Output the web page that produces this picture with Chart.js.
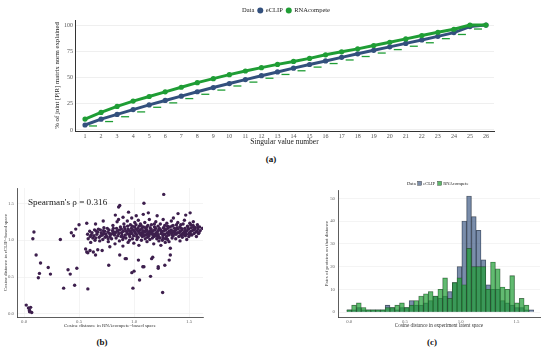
<!DOCTYPE html>
<html>
<head>
<meta charset="utf-8">
<script src="https://cdn.jsdelivr.net/npm/chart.js@4.4.0/dist/chart.umd.min.js"></script>
<style>
  html, body { margin: 0; padding: 0; background: #fff; }
  body { width: 550px; height: 349px; position: relative; overflow: hidden; font-family: "Liberation Serif", serif; }
  canvas { position: absolute; }
  #chartA { left: 0; top: 0; }
  #chartB { left: 0; top: 170px; }
  #chartC { left: 310px; top: 170px; }
  .cap { position: absolute; font-size: 9px; font-weight: bold; color: #111; transform: translate(-50%, -50%); }
  #spearman { position: absolute; left: 28px; top: 197px; font-size: 9.2px; color: #222; white-space: nowrap; }
</style>
</head>
<body>
<canvas id="chartA" width="550" height="150"></canvas>
<canvas id="chartB" width="230" height="160"></canvas>
<canvas id="chartC" width="240" height="160"></canvas>
<div class="cap" style="left:271px; top:159px;">(a)</div>
<div class="cap" style="left:102px; top:342px;">(b)</div>
<div class="cap" style="left:432px; top:342px;">(c)</div>
<div id="spearman">Spearman's ρ = 0.316</div>
<script>
const SERIF = '"Liberation Serif", serif';
const BLUE = '#33507d';
const GREEN = '#1f9d35';

/* (a) norma explicada por valor singular */
const singularValues = [1, 2, 3, 4, 5, 6, 7, 8, 9, 10, 11, 12, 13, 14, 15, 16, 17, 18, 19, 20, 21, 22, 23, 24, 25, 26];
const eclipExplained = [4.7, 10.3, 14.8, 19.4, 23.9, 28.1, 32.2, 36.4, 40.4, 44.2, 48.0, 51.7, 55.3, 58.9, 62.4, 65.8, 69.2, 72.6, 75.9, 79.2, 82.5, 85.8, 89.2, 92.8, 98.5, 100];
const rnaExplained = [10.4, 16.7, 22.4, 27.5, 31.9, 36.3, 40.7, 45.1, 48.9, 52.7, 56.2, 59.4, 62.5, 65.3, 68.2, 71.6, 74.5, 77.3, 80.5, 83.6, 86.8, 90.0, 93.1, 96.0, 100, 100];
const dashPos = [1.5, 2.5, 3.5, 4.5, 5.5, 6.5, 7.5, 8.5, 9.5, 10.5, 11.5, 12.5, 13.5, 14.5, 15.5, 16.5, 17.5, 18.5, 19.5, 20.5, 21.5, 22.5, 23.5, 24.5, 25.5];
const dashValues = [3.8, 8.0, 12.6, 17.2, 21.6, 25.8, 29.9, 34.0, 38.0, 41.9, 45.6, 49.3, 52.9, 56.4, 59.9, 63.3, 66.7, 70.0, 73.3, 76.6, 79.8, 83.1, 87.0, 91.0, 96.2];
const pctTicks = [0, 25, 50, 75, 100];

/* (b) distancias cosseno */
const distancePairs = [
  [0.02,0.12],[0.04,0.08],[0.05,0.05],[0.06,0.09],[0.07,0.02],[0.05,0.03],
  [0.09,1.11],[0.08,1.02],[0.11,0.80],[0.15,0.69],[0.14,0.55],[0.13,0.49],[0.22,0.63],[0.24,0.54],
  [0.33,1.01],[0.36,0.35],[0.40,0.60],[0.42,0.54],[0.43,1.10],[0.45,1.06],[0.46,0.39],[0.48,0.62],
  [0.47,1.15],[0.50,1.21],[0.57,1.23],[0.58,0.34],[0.77,0.66],[0.86,1.45],[0.87,1.47],[0.83,1.34],
  [0.92,0.75],[0.99,0.35],[0.98,0.56],[1.00,0.58],[1.05,0.46],[1.09,1.50],[1.09,0.64],[1.15,0.51],
  [1.22,0.62],[1.26,0.29],[1.17,0.77],[1.16,0.75],[1.32,0.73],[1.33,0.80],[1.33,0.89],[1.51,1.37],
  [1.47,1.34],[1.58,1.18],[1.27,1.62],
  [0.56,0.88],[0.57,0.84],[0.60,0.86],[0.63,0.84],[0.65,0.80],[0.71,0.86],[0.58,0.83],[0.67,0.87],
  [0.78,0.91],[0.87,0.80],[0.93,0.75],[1.04,0.73],[1.08,0.64],[1.28,0.66],[1.22,0.64],
  [0.95,1.38],[1.02,1.33],[1.13,1.37],[1.21,1.33],[1.40,1.36],[0.90,1.31],[0.72,1.26],[0.65,1.22],
  [0.583,1.02],[0.578,1.08],[0.602,1.05],[0.597,1.12],[0.606,0.97],[0.618,1.10],[0.625,1.03],
  [0.641,1.14],[0.636,1.06],[0.645,1.00],[0.662,1.08],[0.657,1.12],[0.683,1.04],[0.676,1.15],
  [0.688,0.99],[0.702,1.10],[0.697,1.06],[0.721,1.13],[0.716,1.01],[0.726,1.17],[0.743,1.08],
  [0.737,1.04],[0.762,1.11],[0.757,1.16],[0.766,0.98],[0.781,1.05],[0.777,1.09],[0.803,1.13],
  [0.796,1.02],[0.808,1.20],[0.822,1.07],[0.816,1.11],[0.827,0.95],[0.841,1.16],[0.837,1.03],
  [0.846,1.25],[0.862,1.09],[0.856,1.13],[0.867,0.99],[0.859,1.28],[0.882,1.05],[0.876,1.18],
  [0.887,1.10],[0.903,1.12],[0.897,1.01],[0.908,1.22],[0.899,0.92],[0.921,1.07],[0.916,1.15],
  [0.926,1.03],[0.942,1.19],[0.937,1.10],[0.946,0.97],[0.939,1.26],[0.962,1.05],[0.956,1.13],
  [0.967,1.21],[0.959,1.00],[0.981,1.09],[0.976,1.16],[0.986,1.02],[0.979,1.30],[1.002,1.12],
  [0.996,1.06],[1.007,1.24],[0.998,0.96],[1.005,1.18],[1.021,1.08],[1.016,1.15],[1.026,1.01],
  [1.018,1.21],[1.042,1.11],[1.037,1.04],[1.046,1.19],[1.039,1.27],[1.044,0.93],[1.062,1.07],
  [1.056,1.14],[1.067,1.00],[1.058,1.22],[1.065,1.10],[1.081,1.13],[1.076,1.05],[1.086,1.18],
  [1.079,1.09],[1.084,1.35],[1.102,1.02],[1.096,1.11],[1.107,1.16],[1.098,1.24],[1.105,1.07],
  [1.121,1.08],[1.116,1.14],[1.126,1.20],[1.118,0.98],[1.124,1.04],[1.142,1.12],[1.137,1.06],
  [1.146,1.17],[1.139,1.28],[1.144,1.01],[1.162,1.09],[1.156,1.15],[1.167,1.03],[1.158,1.21],
  [1.165,1.11],[1.181,1.05],[1.176,1.13],[1.186,1.18],[1.179,0.95],[1.184,1.08],[1.202,1.10],
  [1.196,1.16],[1.207,1.02],[1.198,1.25],[1.205,1.06],[1.221,1.07],[1.216,1.12],[1.226,0.99],
  [1.218,1.19],[1.224,1.04],[1.242,1.14],[1.237,1.03],[1.246,1.09],[1.239,1.22],[1.244,0.93],
  [1.262,1.06],[1.256,1.11],[1.267,1.17],[1.258,1.00],[1.265,1.28],[1.281,1.08],[1.276,1.13],
  [1.286,1.02],[1.279,1.20],[1.284,0.97],[1.302,1.10],[1.296,1.05],[1.307,1.16],[1.298,1.23],
  [1.305,1.01],[1.321,1.12],[1.316,1.07],[1.326,1.18],[1.318,0.98],[1.342,1.09],[1.337,1.14],
  [1.346,1.03],[1.339,1.26],[1.344,1.19],[1.362,1.11],[1.356,1.06],[1.367,1.16],[1.358,1.30],
  [1.381,1.08],[1.376,1.13],[1.386,1.21],[1.379,1.02],[1.402,1.15],[1.396,1.10],[1.407,1.05],
  [1.398,1.24],[1.421,1.12],[1.416,1.18],[1.426,1.07],[1.418,0.99],[1.442,1.09],[1.437,1.14],
  [1.446,1.22],[1.439,1.04],[1.462,1.16],[1.456,1.11],[1.467,1.06],[1.458,1.27],[1.481,1.13],
  [1.476,1.08],[1.486,1.19],[1.479,1.01],[1.502,1.10],[1.496,1.15],[1.507,1.23],[1.498,1.05],
  [1.521,1.17],[1.516,1.12],[1.526,1.07],[1.542,1.14],[1.537,1.20],[1.546,1.09],[1.539,1.25],
  [1.562,1.11],[1.556,1.17],[1.567,1.05],[1.581,1.15],[1.576,1.21],[1.586,1.09],[1.602,1.13],
  [1.596,1.18],[1.621,1.16],
  [0.611,1.07],[0.652,1.03],[0.671,1.11],[0.694,1.14],[0.712,1.07],[0.733,1.12],[0.751,1.05],
  [0.772,1.14],[0.791,1.08],[0.812,1.16],[0.831,1.10],[0.852,1.06],[0.871,1.14],[0.891,1.07],
  [0.912,1.18],[0.931,1.12],[0.951,1.08],[0.971,1.12],[0.991,1.14],[1.011,1.10],[1.031,1.13],
  [1.051,1.09],[1.071,1.16],[1.091,1.06],[1.111,1.12],[1.131,1.10],[1.151,1.13],[1.171,1.07],
  [1.191,1.14],[1.211,1.09],[1.231,1.16],[1.251,1.12],[1.271,1.08],[1.291,1.14],[1.311,1.09],
  [1.331,1.11],[1.351,1.12],[1.371,1.09],[1.391,1.17],[1.411,1.10],[1.431,1.16],[1.451,1.08],
  [1.471,1.11],[1.491,1.17],[1.511,1.09],[1.531,1.13],[1.551,1.15],[1.571,1.12],[1.591,1.10],
  [0.905,1.04],[0.945,1.15],[0.985,1.19],[1.025,1.05],[1.065,1.20],[1.105,1.13],[1.145,1.09],
  [1.185,1.22],[1.225,1.14],[1.265,1.03],[1.305,1.19],[1.345,1.07],[1.385,1.15],[1.425,1.21],
  [1.465,1.13],[1.505,1.07],[1.545,1.18],[1.115,1.18],[1.035,1.16],[0.965,1.09],[1.195,1.06],
  [1.275,1.16],[1.355,1.20],[1.435,1.06],[1.515,1.21],[0.725,1.09],[0.765,1.02],[0.805,1.09],
  [0.845,1.12],[0.885,1.15]
];
const distTicks = [0, 0.5, 1.0, 1.5];

/* (c) histograma */
const binCenters = [0.000, 0.043, 0.086, 0.129, 0.172, 0.215, 0.258, 0.301, 0.344, 0.387, 0.430, 0.473, 0.516,
  0.559, 0.602, 0.645, 0.688, 0.731, 0.774, 0.817, 0.860, 0.903, 0.946, 0.989, 1.032, 1.075, 1.118, 1.161,
  1.204, 1.247, 1.290, 1.333, 1.376, 1.419, 1.462, 1.505, 1.548, 1.591, 1.634];
const eclipCounts = [1, 1, 2, 1, 1, 1, 1, 1, 3, 2, 1, 2, 2, 5, 3, 3, 4, 5, 7, 6, 7, 9, 13, 20, 40, 51, 42, 36,
  23, 12, 10, 10, 5, 4, 3, 2, 2, 1, 1];
const rnaCounts = [1, 3, 4, 2, 1, 1, 1, 1, 2, 2, 3, 4, 2, 3, 5, 7, 8, 9, 7, 10, 15, 6, 13, 15, 12, 28, 20, 20,
  20, 10, 22, 19, 11, 10, 16, 4, 6, 3, 0];
const countTicks = [0, 10, 20, 30, 40, 50];

/* legenda "Data" estilo ggplot */
const dataLegend = {
  id: 'dataLegend',
  afterDraw(chart, args, opts) {
    const ctx = chart.ctx;
    ctx.save();
    ctx.font = `${opts.size}px ${SERIF}`;
    ctx.textBaseline = 'middle';
    ctx.fillStyle = '#222';
    let x = opts.x;
    ctx.fillText('Data', x, opts.y);
    x += ctx.measureText('Data').width + opts.gapA;
    chart.data.datasets.filter(ds => ds.inLegend).forEach(ds => {
      const r = opts.r;
      if (opts.square) {
        ctx.fillStyle = ds.keyColor;
        ctx.fillRect(x, opts.y - r, 2 * r, 2 * r);
        ctx.strokeStyle = '#333';
        ctx.lineWidth = 0.4;
        ctx.strokeRect(x, opts.y - r, 2 * r, 2 * r);
      } else {
        ctx.fillStyle = ds.borderColor;
        ctx.beginPath();
        ctx.arc(x + r, opts.y, r, 0, Math.PI * 2);
        ctx.fill();
      }
      x += 2 * r + opts.gapB;
      ctx.fillStyle = '#222';
      ctx.fillText(ds.label, x, opts.y);
      x += ctx.measureText(ds.label).width + opts.gapC;
    });
    ctx.restore();
  }
};

function fixedTicks(values) {
  return scale => { scale.ticks = values.map(v => ({ value: v })); };
}

/* grafico (a) */
new Chart(document.getElementById('chartA'), {
  type: 'line',
  data: {
    datasets: [
      {
        label: 'eCLIP', inLegend: true,
        data: singularValues.map((s, i) => ({ x: s, y: eclipExplained[i] })),
        borderColor: BLUE, backgroundColor: BLUE, borderWidth: 3,
        pointRadius: 2.6, pointBorderWidth: 0, order: 1
      },
      {
        label: 'RNAcompete', inLegend: true,
        data: singularValues.map((s, i) => ({ x: s, y: rnaExplained[i] })),
        borderColor: GREEN, backgroundColor: GREEN, borderWidth: 3,
        pointRadius: 2.6, pointBorderWidth: 0, order: 0
      },
      {
        label: 'uniforme',
        data: dashPos.map((s, i) => ({ x: s, y: dashValues[i] })),
        showLine: false, pointStyle: 'line', pointRadius: 4,
        borderColor: GREEN, pointBorderWidth: 1.3, order: 2
      }
    ]
  },
  options: {
    responsive: false, animation: false,
    layout: { padding: { left: 0, top: 20, right: 56, bottom: 0 } },
    plugins: {
      legend: { display: false }, tooltip: { enabled: false },
      dataLegend: { x: 242, y: 10.6, size: 6.5, r: 3, gapA: 3, gapB: 2.5, gapC: 3 }
    },
    scales: {
      x: {
        type: 'linear', min: 0.375, max: 26.5,
        afterBuildTicks: fixedTicks(singularValues),
        afterFit: s => { s.height = 19; },
        grid: { display: false, drawTicks: false },
        border: { display: true, color: '#333', width: 1 },
        ticks: { font: { family: SERIF, size: 6 }, color: '#555', padding: 2, maxRotation: 0, autoSkip: false },
        title: { display: true, text: 'Singular value number', font: { family: SERIF, size: 7.5 }, color: '#222', padding: { top: 0, bottom: 3 } }
      },
      y: {
        min: -1, max: 104.8,
        afterBuildTicks: fixedTicks(pctTicks),
        afterFit: s => { s.width = 75; },
        grid: { color: '#ebebeb', lineWidth: 0.8, drawTicks: false },
        border: { display: true, color: '#333', width: 1 },
        ticks: { font: { family: SERIF, size: 6 }, color: '#555', padding: 2 },
        title: { display: true, text: '% of joint [P|R] matrix norm explained', font: { family: SERIF, size: 6.8 }, color: '#222', padding: { top: 53, bottom: 0 } }
      }
    }
  },
  plugins: [dataLegend]
});

/* grafico (b) */
new Chart(document.getElementById('chartB'), {
  type: 'scatter',
  data: {
    datasets: [{
      label: 'proteinas',
      data: distancePairs.map(p => ({ x: p[0], y: p[1] })),
      backgroundColor: '#3d1f4d', borderWidth: 0, pointRadius: 1.7
    }]
  },
  options: {
    responsive: false, animation: false,
    layout: { padding: { left: 0, top: 18, right: 27, bottom: 0 } },
    plugins: { legend: { display: false }, tooltip: { enabled: false } },
    scales: {
      x: {
        type: 'linear', min: -0.064, max: 1.627,
        afterBuildTicks: fixedTicks(distTicks),
        afterFit: s => { s.height = 13; },
        grid: { color: '#ececec', lineWidth: 0.6, drawTicks: false },
        border: { display: true, color: '#333', width: 0.8 },
        ticks: { font: { family: SERIF, size: 4.8 }, color: '#666', padding: 1.5, maxRotation: 0, callback: v => v.toFixed(1) },
        title: { display: true, text: 'Cosine distance in RNAcompete−based space', font: { family: SERIF, size: 5 }, color: '#333', padding: { top: 0, bottom: 1 } }
      },
      y: {
        min: -0.041, max: 1.707,
        afterBuildTicks: fixedTicks(distTicks),
        afterFit: s => { s.width = 17; },
        grid: { color: '#ececec', lineWidth: 0.6, drawTicks: false },
        border: { display: true, color: '#333', width: 0.8 },
        ticks: { font: { family: SERIF, size: 4.8 }, color: '#666', padding: 3, callback: v => v.toFixed(1) },
        title: { display: true, text: 'Cosine distance in eCLIP−based space', font: { family: SERIF, size: 5 }, color: '#333', padding: { top: 3, bottom: 0 } }
      }
    }
  }
});

/* grafico (c) */
new Chart(document.getElementById('chartC'), {
  type: 'bar',
  data: {
    datasets: [
      {
        label: 'eCLIP', inLegend: true, keyColor: '#7b8ca8',
        data: binCenters.map((c, i) => ({ x: c, y: eclipCounts[i] })),
        backgroundColor: 'rgba(51,80,125,0.65)', borderColor: 'rgba(40,40,40,0.7)', borderWidth: 0.4,
        grouped: false, barPercentage: 1, categoryPercentage: 1, order: 1
      },
      {
        label: 'RNAcompete', inLegend: true, keyColor: '#5db86a',
        data: binCenters.map((c, i) => ({ x: c, y: rnaCounts[i] })),
        backgroundColor: 'rgba(31,157,53,0.7)', borderColor: 'rgba(40,40,40,0.7)', borderWidth: 0.4,
        grouped: false, barPercentage: 1, categoryPercentage: 1, order: 0
      }
    ]
  },
  options: {
    responsive: false, animation: false,
    layout: { padding: { left: 0, top: 20, right: 10, bottom: 0 } },
    plugins: {
      legend: { display: false }, tooltip: { enabled: false },
      dataLegend: { x: 97, y: 13.3, size: 4.6, r: 2, gapA: 2, gapB: 1.5, gapC: 2.5, square: true }
    },
    scales: {
      x: {
        type: 'linear', min: -0.101, max: 1.712, offset: false,
        afterBuildTicks: fixedTicks(distTicks),
        afterFit: s => { s.height = 13; },
        grid: { display: false, drawTicks: false },
        border: { display: true, color: '#333', width: 0.8 },
        ticks: { font: { family: SERIF, size: 4.8 }, color: '#666', padding: 1.5, maxRotation: 0, callback: v => v.toFixed(1) },
        title: { display: true, text: 'Cosine distance in experiment latent space', font: { family: SERIF, size: 5.2 }, color: '#333', padding: { top: 0, bottom: 1 } }
      },
      y: {
        min: -2.2, max: 53.7,
        afterBuildTicks: fixedTicks(countTicks),
        afterFit: s => { s.width = 28; },
        grid: { color: '#ececec', lineWidth: 0.6, drawTicks: false },
        border: { display: true, color: '#333', width: 0.8 },
        ticks: { font: { family: SERIF, size: 4.8 }, color: '#666', padding: 3 },
        title: { display: true, text: 'Pairs of proteins on that distance', font: { family: SERIF, size: 5 }, color: '#333', padding: { top: 13.7, bottom: 0 } }
      }
    }
  },
  plugins: [dataLegend]
});
</script>
</body>
</html>
